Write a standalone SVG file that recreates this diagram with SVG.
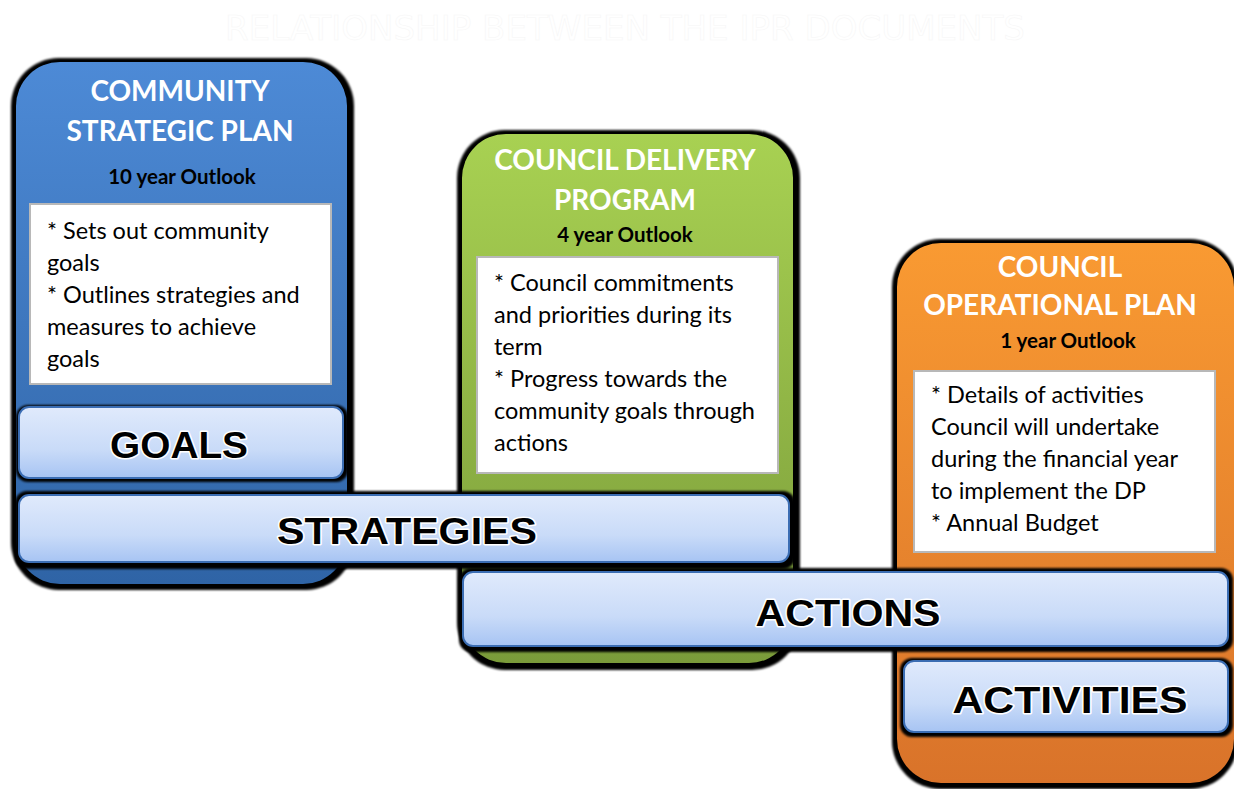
<svg xmlns="http://www.w3.org/2000/svg" width="1234" height="789" viewBox="0 0 1234 789">
<defs>
<linearGradient id="gBlue" x1="0" y1="0" x2="0" y2="1"><stop offset="0" stop-color="#4d8ad6"/><stop offset="1" stop-color="#2f64a6"/></linearGradient>
<linearGradient id="gGreen" x1="0" y1="0" x2="0" y2="1"><stop offset="0" stop-color="#a8d152"/><stop offset="1" stop-color="#7a9b3a"/></linearGradient>
<linearGradient id="gOrange" x1="0" y1="0" x2="0" y2="1"><stop offset="0" stop-color="#f99a32"/><stop offset="1" stop-color="#d9732a"/></linearGradient>
<linearGradient id="gBar" x1="0" y1="0" x2="0" y2="1"><stop offset="0" stop-color="#e0eafc"/><stop offset="0.6" stop-color="#c9dbf8"/><stop offset="1" stop-color="#a7c4f3"/></linearGradient>
<filter id="blur" x="-5%" y="-5%" width="110%" height="110%"><feGaussianBlur stdDeviation="1.2"/></filter>
</defs>
<style>
.title{font-family:"DejaVu Sans Condensed","Liberation Sans",sans-serif;font-size:34px;fill:#ffffff;stroke:#f6f6f6;stroke-width:0.5}
.ptitle{font-family:Lato,"Open Sans",sans-serif;font-weight:bold;font-size:28px;fill:#ffffff;text-anchor:middle}
.sub{font-family:Lato,"Open Sans",sans-serif;font-weight:bold;font-size:20.5px;fill:#000000;text-anchor:middle}
.body{font-family:Lato,"Open Sans",sans-serif;font-size:23.5px;fill:#000000}
.box{fill:#ffffff;stroke:#b8b8b8;stroke-width:2}
.shadow{fill:#000000}
.bar{fill:url(#gBar);stroke:#3b6db3;stroke-width:2}
.barText{font-family:"Liberation Sans",Arial,sans-serif;font-weight:900;font-size:37px;fill:#000000;text-anchor:middle;stroke:#ffffff;stroke-width:3;paint-order:stroke;stroke-linejoin:round}
</style>
<rect width="1234" height="789" fill="#ffffff"/>
<text class="title" x="625" y="40" text-anchor="middle" textLength="800" lengthAdjust="spacingAndGlyphs">RELATIONSHIP BETWEEN THE IPR DOCUMENTS</text>

<g id="csp">
<rect class="shadow" x="11" y="58" width="343" height="532" rx="48" filter="url(#blur)"/>
<rect x="16" y="62" width="331" height="522" rx="44" fill="url(#gBlue)"/>
<text class="ptitle" x="180" y="101">COMMUNITY</text>
<text class="ptitle" x="180" y="141">STRATEGIC PLAN</text>
<text class="sub" x="182" y="184">10 year Outlook</text>
<rect class="box" x="30" y="204" width="301" height="180"/>
<text class="body" x="47" y="239">* Sets out community</text>
<text class="body" x="47" y="271">goals</text>
<text class="body" x="47" y="303">* Outlines strategies and</text>
<text class="body" x="47" y="335">measures to achieve</text>
<text class="body" x="47" y="367">goals</text>
</g>

<g id="cdp">
<rect class="shadow" x="457" y="130" width="343" height="540" rx="48" filter="url(#blur)"/>
<rect x="462" y="134" width="331" height="529" rx="44" fill="url(#gGreen)"/>
<text class="ptitle" x="625" y="170">COUNCIL DELIVERY</text>
<text class="ptitle" x="625" y="210">PROGRAM</text>
<text class="sub" x="625" y="242">4 year Outlook</text>
<rect class="box" x="477" y="257" width="301" height="216"/>
<text class="body" x="494" y="291">* Council commitments</text>
<text class="body" x="494" y="323">and priorities during its</text>
<text class="body" x="494" y="355">term</text>
<text class="body" x="494" y="387">* Progress towards the</text>
<text class="body" x="494" y="419">community goals through</text>
<text class="body" x="494" y="451">actions</text>
</g>

<g id="cop">
<rect class="shadow" x="892" y="239" width="346" height="550" rx="48" filter="url(#blur)"/>
<rect x="897" y="243" width="337" height="540" rx="44" fill="url(#gOrange)"/>
<text class="ptitle" x="1060" y="277">COUNCIL</text>
<text class="ptitle" x="1060" y="315">OPERATIONAL PLAN</text>
<text class="sub" x="1068" y="348">1 year Outlook</text>
<rect class="box" x="914" y="371" width="301" height="181"/>
<text class="body" x="931" y="403">* Details of activities</text>
<text class="body" x="931" y="435">Council will undertake</text>
<text class="body" x="931" y="467">during the financial year</text>
<text class="body" x="931" y="499">to implement the DP</text>
<text class="body" x="931" y="531">* Annual Budget</text>
</g>

<g id="goals">
<rect class="shadow" x="16" y="405" width="332" height="77" rx="12" filter="url(#blur)"/>
<rect class="bar" x="19" y="407" width="324" height="71" rx="10"/>
<text class="barText" x="179" y="458" textLength="138" lengthAdjust="spacingAndGlyphs">GOALS</text>
</g>

<g id="strategies">
<rect class="shadow" x="15" y="491" width="780" height="78" rx="12" filter="url(#blur)"/>
<rect class="bar" x="19" y="495" width="770" height="67" rx="10"/>
<text class="barText" x="407" y="544" textLength="260" lengthAdjust="spacingAndGlyphs">STRATEGIES</text>
</g>

<g id="actions">
<rect class="shadow" x="459" y="568" width="774" height="84" rx="12" filter="url(#blur)"/>
<rect class="bar" x="463" y="572" width="765" height="74" rx="10"/>
<text class="barText" x="848" y="626" textLength="185" lengthAdjust="spacingAndGlyphs">ACTIONS</text>
</g>

<g id="activities">
<rect class="shadow" x="900" y="658" width="333" height="79" rx="12" filter="url(#blur)"/>
<rect class="bar" x="904" y="661" width="324" height="71" rx="10"/>
<text class="barText" x="1070" y="713" textLength="235" lengthAdjust="spacingAndGlyphs">ACTIVITIES</text>
</g>
</svg>
